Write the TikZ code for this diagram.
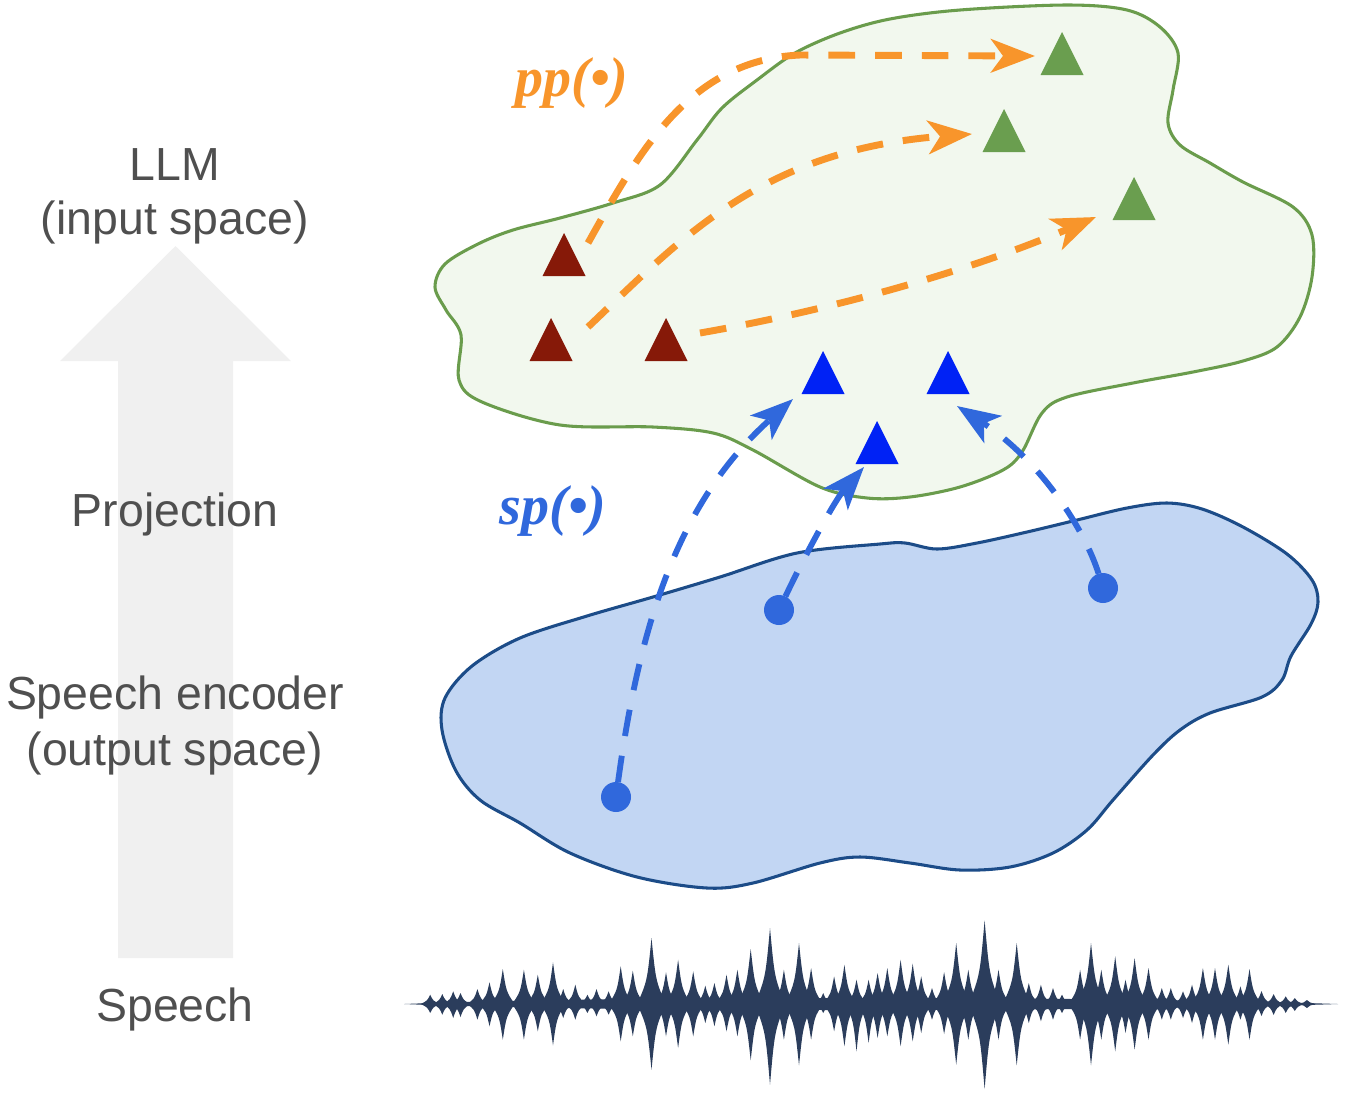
\documentclass[tikz,border=0pt]{standalone}
\usepackage{fontspec}
\setmainfont{Liberation Sans}
\newfontfamily\lblserif{Liberation Serif}
\usetikzlibrary{arrows.meta,shapes.geometric,calc}
\definecolor{txtgray}{HTML}{4F4F4F}
\definecolor{arrowgray}{HTML}{F0F0F0}
\definecolor{llmfill}{HTML}{F2F8EE}
\definecolor{llmline}{HTML}{6A9C4C}
\definecolor{encfill}{HTML}{C2D6F3}
\definecolor{encline}{HTML}{1C4C88}
\definecolor{trired}{HTML}{861908}
\definecolor{trigreen}{HTML}{6A9E4F}
\definecolor{triblue}{HTML}{0022F5}
\definecolor{ppcol}{HTML}{F8952B}
\definecolor{spcol}{HTML}{3068DC}
\definecolor{wavecol}{HTML}{2B3D5C}
\begin{document}
\begin{tikzpicture}[x=0.75pt,y=-0.75pt,
  lbl/.style={font=\fontsize{34.8}{42}\selectfont, text=txtgray, anchor=base, inner sep=0pt},
  tri/.style={isosceles triangle, isosceles triangle stretches, shape border rotate=90,
    minimum width=32.25pt, minimum height=32.25pt, inner sep=0pt, outer sep=0pt, anchor=apex},
  dot/.style={circle, fill=spcol, minimum size=22.5pt, inner sep=0pt, outer sep=0pt},
  pparrow/.style={draw=ppcol, line width=5.2pt, dash pattern=on 20pt off 15pt,
    -{Stealth[length=33pt,width=25pt,inset=9pt]}},
  sparrow/.style={draw=spcol, line width=4.4pt, dash pattern=on 20pt off 15pt,
    -{Stealth[length=32pt,width=24pt,inset=8pt]}},
  fnlbl/.style={font=\lblserif\bfseries\itshape\fontsize{42}{46}\selectfont, anchor=base, inner sep=0pt},
  blob/.style={line width=2.3pt, line join=round}]

\useasboundingbox (0,0) rectangle (1348,1097);

% big gray arrow
\fill[arrowgray] (118,958) -- (118,361) -- (60,361) -- (175.5,246) -- (291,361) -- (233,361) -- (233,958) -- cycle;

% left labels
\node[lbl] (llm1) at (175,180) {LLM};
\node[lbl] (llm2) at (175,234) {(input space)};
\node[lbl] (proj) at (175,526) {Projection};
\node[lbl] (enc1) at (175,709) {Speech encoder};
\node[lbl] (enc2) at (175,765) {(output space)};
\node[lbl] (speech) at (175,1021) {Speech};

% LLM input space blob
\draw[blob, draw=llmline, fill=llmfill] plot[smooth cycle, tension=0.55] coordinates {
  (435,287) (445,264) (478,244) (513,230) (560,218) (613,203) (660,185) (697,140)
  (722,108) (757,80) (795,53) (840,33) (890,19) (960,10) (1067,5) (1127,10)
  (1160,27) (1178,53) (1173,90) (1168,123) (1180,145) (1210,163) (1243,182)
  (1293,207) (1312,235) (1312,277) (1300,317) (1277,347) (1243,361) (1193,372)
  (1133,383) (1067,397) (1042,413) (1022,452) (1003,470) (960,487) (910,497)
  (867,498) (820,487) (753,450) (713,433) (653,427) (560,425) (482,402)
  (459,380) (461,335) (446,310)};

% speech encoder output space blob
\draw[blob, draw=encline, fill=encfill] plot[smooth cycle, tension=0.55] coordinates {
  (442,730) (445,698) (472,666) (520,638) (587,616) (653,597) (720,577) (797,553)
  (880,544) (905,543) (937,549) (977,543) (1027,532) (1077,520) (1127,508)
  (1167,503) (1202,509) (1243,527) (1287,554) (1312,580) (1318,602) (1311,624)
  (1291,656) (1282,680) (1262,697) (1210,713) (1180,730) (1153,755) (1113,800)
  (1087,830) (1053,853) (1010,867) (960,870) (910,863) (860,857) (820,863)
  (753,883) (707,888) (637,877) (570,853) (520,823) (480,800) (456,771)};

% triangles
\node[tri, fill=trired] (R1) at (564,233) {};
\node[tri, fill=trired] (R2) at (551,318) {};
\node[tri, fill=trired] (R3) at (666,318) {};
\node[tri, fill=trigreen] (G1) at (1062,32) {};
\node[tri, fill=trigreen] (G2) at (1004,109) {};
\node[tri, fill=trigreen] (G3) at (1134,177) {};
\node[tri, fill=triblue] (B1) at (823,351) {};
\node[tri, fill=triblue] (B2) at (948,351) {};
\node[tri, fill=triblue] (B3) at (877,421) {};

% arrow end coordinates
\coordinate (a1s) at (588,243);
\coordinate (a1e) at (1035,56);
\coordinate (a2s) at (588,327);
\coordinate (a2e) at (972,134);
\coordinate (a3s) at (700,333);
\coordinate (a3e) at (1096,217);
\coordinate (s1e) at (793,399);
\coordinate (s2e) at (864,467);
\coordinate (s3e) at (957,406);

% orange projection arrows
\draw[pparrow] (a1s) .. controls (640,150) and (690,60) .. (800,55) -- (a1e);
\draw[pparrow] (a2s) .. controls (680,240) and (760,150) .. (a2e);
\draw[pparrow] (a3s) .. controls (820,312) and (960,275) .. (a3e);

% speech points
\node[dot] (D1) at (616,797) {};
\node[dot] (D2) at (779,610) {};
\node[dot] (D3) at (1103,588) {};

% blue projection arrows
\draw[sparrow] (D1) .. controls (640,620) and (680,500) .. (s1e);
\draw[sparrow] (D2) .. controls (805,555) and (835,500) .. (s2e);
\draw[sparrow] (D3) .. controls (1085,530) and (1040,460) .. (s3e);

% function labels
\node[fnlbl, text=ppcol] (pp) at (572,96) {pp(•)};
\node[fnlbl, text=spcol] (sp) at (553,524) {sp(•)};

% waveform
\fill[wavecol] (404,1004) .. controls (600,996) and (1100,996) .. (1338,1004)
  .. controls (1100,1012) and (600,1012) .. cycle;
\foreach \x/\t/\b in {430.2/9.3/9, 442.3/10/10.7, 453.2/12.7/14, 460.5/11/13, 477.4/15/15.7,
  489.5/21.7/22.3, 502.8/35/35.7, 523.9/34.3/35.7, 537.8/29.3/27.3, 553/41.7/41.3,
  563.2/15/14, 575.3/19.3/15.7, 587.4/9.3/9, 596.5/15/12.3, 608.6/12.7/10.7,
  620.7/37.7/37.3, 632.8/33.3/32.3, 651.5/66/65.7, 666/31.7/32.3, 678.1/44.3/44,
  693.2/32.7/32.3, 705.3/18.3/19, 714.4/21/22.3, 726.5/29.3/27.3, 737.4/34.3/32.3,
  750.7/55/56.3, 770/76/80.7, 783.9/34.3/35.7, 799/61/61.3, 811.1/36/35.7,
  823.2/11/9, 834.1/27.7/27.3, 844.4/39.3/42.3, 856.5/24.3/47.3, 868.6/24.3/39,
  877.6/31/34, 887.3/36/32.3, 900.6/44.3/42.3, 912.7/40.3/37.3, 921.2/27.7/29,
  932/16/15.7, 944.1/32/30, 956.2/61/60.7, 968.3/34.3/35.7, 984.6/83.7/85,
  998.5/34.3/35.7, 1016.7/61/61.3, 1028.8/21/19, 1040.9/19.3/17.3, 1053/16/15.7,
  1062/9.3/9, 1080.1/34.3/35.7, 1091/61/61.3, 1101.3/34.3/35.7, 1115.2/47.7/47.3,
  1125.5/24.3/29, 1134.6/46/45.7, 1148.5/36/35.7, 1161.8/16/15.7, 1170.8/16/15.7,
  1183/12.7/14, 1192/19.3/19, 1202.9/36/35.7, 1215/36/35.7, 1228.3/39.3/40.7,
  1240.4/17.7/15.7, 1249.5/35/35.7, 1261.5/13/12, 1273.6/10/11, 1285.7/7.7/9,
  1294.8/6/7, 1306.9/4/4}{
  \pgfmathsetmacro\w{9+0.08*\t}
  \fill[wavecol] ({\x-\w},1004) .. controls ({\x-0.3*\w},{1004-0.35*\t}) .. (\x,{1004-\t})
    .. controls ({\x+0.3*\w},{1004-0.35*\t}) .. ({\x+\w},1004)
    .. controls ({\x+0.3*\w},{1004+0.35*\b}) .. (\x,{1004+\b})
    .. controls ({\x-0.3*\w},{1004+0.35*\b}) .. cycle;
}
\end{tikzpicture}
\end{document}
